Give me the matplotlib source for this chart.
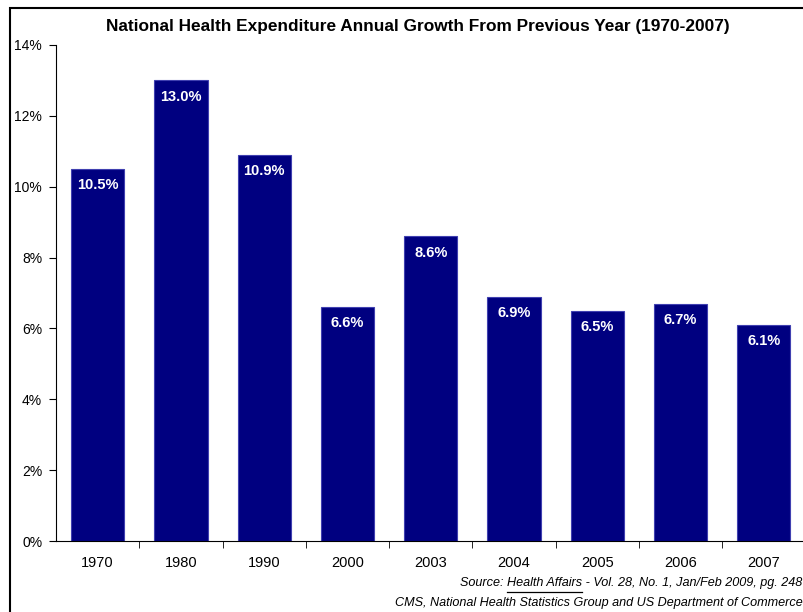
import matplotlib.pyplot as plt
import matplotlib
from matplotlib.patches import Rectangle
from matplotlib.lines import Line2D

matplotlib.rcParams['font.family'] = ['Liberation Sans Narrow', 'Liberation Sans', 'DejaVu Sans']

years = ['1970', '1980', '1990', '2000', '2003', '2004', '2005', '2006', '2007']
growth = [10.5, 13.0, 10.9, 6.6, 8.6, 6.9, 6.5, 6.7, 6.1]
yticks = [0, 2, 4, 6, 8, 10, 12, 14]

fig = plt.figure(figsize=(8.04, 6.12), dpi=100)
ax = fig.add_axes([0.0697, 0.116, 0.932, 0.8105])

xs = list(range(len(years)))
bars = ax.bar(xs, growth, width=0.64, color='#000080', edgecolor='#4040b0', linewidth=0.8)
for x, v in zip(xs, growth):
    ax.text(x, v - 0.26, '%.1f%%' % v, ha='center', va='top', color='white',
            fontsize=10.5, fontweight='bold')

ax.set_xlim(-0.5, len(years) - 0.5)
ax.set_ylim(0, 14)
ax.set_yticks(yticks)
ax.set_yticklabels(['%d%%' % t for t in yticks], fontsize=10)
ax.set_xticks(xs)
ax.set_xticklabels(years, fontsize=10.5)
ax.set_xticks([x + 0.5 for x in xs[:-1]], minor=True)
ax.tick_params(axis='x', which='major', length=0, pad=10.5)
ax.tick_params(axis='x', which='minor', length=5, direction='out')
ax.tick_params(axis='y', length=5, direction='out', pad=5)
for s in ['top', 'right']:
    ax.spines[s].set_visible(False)

fig.text(0.52, 0.956, 'National Health Expenditure Annual Growth From Previous Year (1970-2007)',
         ha='center', va='center', fontsize=12.4, fontweight='bold')

# outer frame
fig.patches.append(Rectangle((0.013, -0.1), 1.2, 1.087, transform=fig.transFigure,
                             fill=False, edgecolor='black', linewidth=1.5))

fs = 9.1
src1 = 'Source: Health Affairs - Vol. 28, No. 1, Jan/Feb 2009, pg. 248'
tail = ' - Vol. 28, No. 1, Jan/Feb 2009, pg. 248'
src2 = 'CMS, National Health Statistics Group and US Department of Commerce'
fig.text(0.998, 0.048, src1, ha='right', va='center', fontsize=fs, style='italic')
fig.text(0.998, 0.014, src2, ha='right', va='center', fontsize=fs, style='italic')

# underline "Health Affairs"
fig.canvas.draw()
r = fig.canvas.get_renderer()
t1 = fig.text(0, 0, 'Health Affairs' + tail, fontsize=fs, style='italic', alpha=0)
t2 = fig.text(0, 0, tail, fontsize=fs, style='italic', alpha=0)
w1 = t1.get_window_extent(r).width / fig.bbox.width
w2 = t2.get_window_extent(r).width / fig.bbox.width
fig.lines.append(Line2D([0.998 - w1, 0.998 - w2], [0.033, 0.033], transform=fig.transFigure,
                        color='black', linewidth=0.9))

fig.savefig('out.png', dpi=100)
